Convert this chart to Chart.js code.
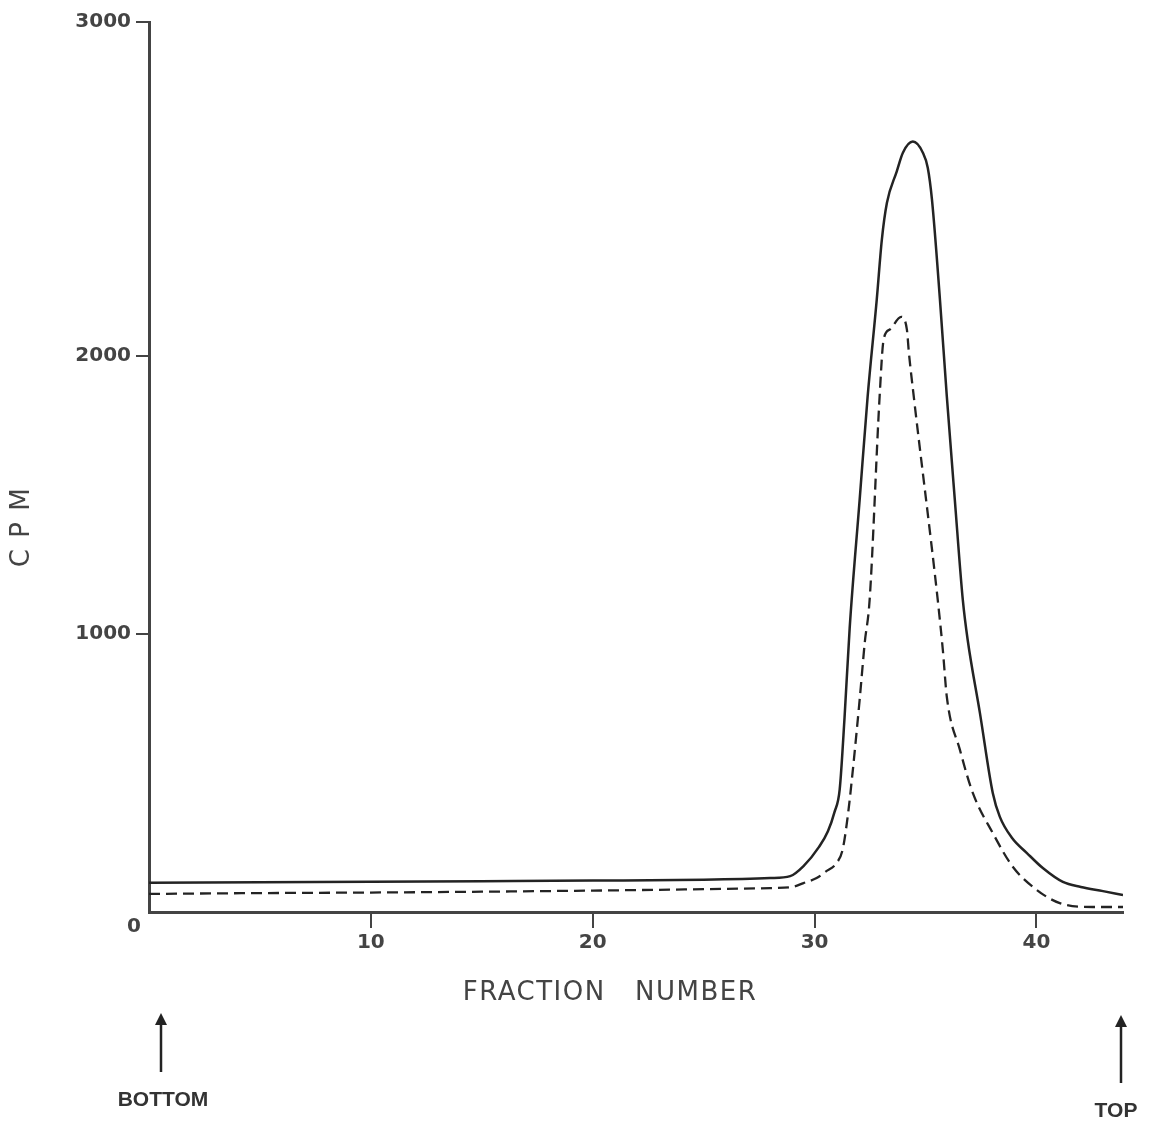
<!DOCTYPE html>
<html>
<head>
<meta charset="utf-8">
<script src="https://cdn.jsdelivr.net/npm/chart.js@4/dist/chart.umd.min.js"></script>
<style>
  html, body { margin: 0; padding: 0; background: #fff; }
  #wrap { width: 1149px; height: 1124px; }
</style>
</head>
<body>
<div id="wrap"><canvas id="chart" width="1149" height="1124"></canvas></div>
<script>
// ===== 数据 =====
const solidFractions = [0, 5, 10, 15, 20, 25, 28, 28.9, 29.5, 30.2, 30.6, 30.9, 31.13, 31.35, 31.58, 32.03, 32.39, 32.8, 33.03, 33.26, 33.7, 33.98, 34.43, 34.88, 35.1, 35.29, 35.65, 35.96, 36.32, 36.68, 36.9, 37.45, 38.03, 38.35, 38.9, 39.57, 40.3, 41.19, 42, 43, 43.9];
const solidCpm = [105, 107, 109, 111, 113, 116, 122, 129, 165, 234, 290, 360, 440, 700, 1020, 1482, 1853, 2201, 2417, 2550, 2662, 2730, 2770, 2730, 2676, 2561, 2201, 1853, 1482, 1122, 978, 716, 428, 342, 266, 212, 157, 108, 90, 75, 61];

const dashedFractions = [0, 5, 10, 15, 20, 25, 28, 29, 29.5, 30.09, 30.5, 30.99, 31.26, 31.49, 31.71, 32.03, 32.26, 32.48, 32.93, 33.11, 33.4, 33.9, 34.16, 34.25, 34.47, 35.55, 35.78, 35.96, 36.55, 37.13, 38.03, 38.94, 40.02, 41.05, 42.54, 43.9];
const dashedCpm = [65, 68, 70, 73, 77, 82, 86, 90, 104, 122, 145, 176, 223, 342, 500, 763, 968, 1122, 1853, 2058, 2095, 2140, 2094, 2011, 1853, 1122, 942, 773, 583, 428, 284, 162, 79, 32, 18, 18];

const xTickValues = [10, 20, 30, 40];
const yTickValues = [0, 1000, 2000, 3000];
const yTickLabels = ['0', '1000', '2000', '3000'];
const xMax = 43.9;
const yMax = 3200; // 原图的纵轴画到 3000 刻度线之上，3000 标在轴顶

const ink = '#232323';
const gray = '#444';

function pts(xs, ys) { return xs.map((x, i) => ({ x, y: ys[i] })); }

function arrow(ctx, px, top, bottom) {
  ctx.beginPath();
  ctx.moveTo(px, bottom);
  ctx.lineTo(px, top + 10);
  ctx.stroke();
  ctx.beginPath();
  ctx.moveTo(px, top);
  ctx.lineTo(px - 6, top + 12);
  ctx.lineTo(px + 6, top + 12);
  ctx.closePath();
  ctx.fill();
}

// 轴标题、角上的 0、底部箭头
const annotations = {
  id: 'annotations',
  afterDraw(chart) {
    const { ctx, chartArea: a } = chart;
    ctx.save();
    ctx.fillStyle = gray;
    ctx.strokeStyle = ink;
    ctx.textAlign = 'center';
    ctx.textBaseline = 'middle';

    ctx.font = 'bold 20px "DejaVu Sans"';
    ctx.fillText('0', a.left - 15, a.bottom + 15);

    ctx.font = '26px "DejaVu Sans"';
    ctx.letterSpacing = '1.5px';
    ctx.fillText('FRACTION   NUMBER', a.left + 461, a.bottom + 81);

    ctx.save();
    ctx.translate(a.left - 127, a.top + 505);
    ctx.rotate(-Math.PI / 2);
    ctx.fillText('C P M', 0, 0);
    ctx.restore();
    ctx.letterSpacing = '0px';

    ctx.fillStyle = ink;
    ctx.lineWidth = 2.5;
    arrow(ctx, a.left + 12, a.bottom + 101, a.bottom + 160);
    arrow(ctx, a.right - 2, a.bottom + 103, a.bottom + 171);

    ctx.fillStyle = '#333';
    ctx.font = 'bold 21px "Liberation Sans"';
    ctx.fillText('BOTTOM', a.left + 14, a.bottom + 188);
    ctx.fillText('TOP', a.right - 7, a.bottom + 199);
    ctx.restore();
  },
};

new Chart(document.getElementById('chart'), {
  type: 'line',
  data: {
    datasets: [
      { data: pts(solidFractions, solidCpm), borderColor: ink, borderWidth: 2.5, pointRadius: 0,
        cubicInterpolationMode: 'monotone', fill: false },
      { data: pts(dashedFractions, dashedCpm), borderColor: ink, borderWidth: 2.3, borderDash: [11, 6],
        pointRadius: 0, cubicInterpolationMode: 'monotone', fill: false },
    ],
  },
  options: {
    responsive: false,
    animation: false,
    layout: { padding: { top: 22, right: 26, left: 0, bottom: 0 } },
    plugins: { legend: { display: false }, tooltip: { enabled: false } },
    scales: {
      x: {
        type: 'linear', min: 0, max: xMax,
        afterFit: (s) => { s.height = 212; },
        afterBuildTicks: (s) => { s.ticks = xTickValues.map((v) => ({ value: v })); },
        grid: { drawOnChartArea: false, tickLength: 16, color: gray, lineWidth: 2 },
        border: { color: gray, width: 3 },
        ticks: { padding: 3, color: gray, maxRotation: 0,
          font: { family: 'DejaVu Sans', size: 20, weight: 'bold' } },
      },
      y: {
        type: 'linear', min: 0, max: yMax,
        afterFit: (s) => { s.width = 149; },
        // 3000 的刻度按原图放在轴顶
        afterBuildTicks: (s) => {
          s.ticks = yTickValues.map((v, i) => ({ value: i === yTickValues.length - 1 ? yMax : v }));
        },
        grid: { drawOnChartArea: false, tickLength: 13, lineWidth: 2,
          color: (c) => (c.tick && c.tick.value === 0 ? 'rgba(0,0,0,0)' : gray) },
        border: { color: gray, width: 3 },
        ticks: { padding: 5, color: gray,
          font: { family: 'DejaVu Sans', size: 20, weight: 'bold' },
          callback: (v, i) => (i === 0 ? '' : yTickLabels[i]) },
      },
    },
  },
  plugins: [annotations],
});
</script>
</body>
</html>
